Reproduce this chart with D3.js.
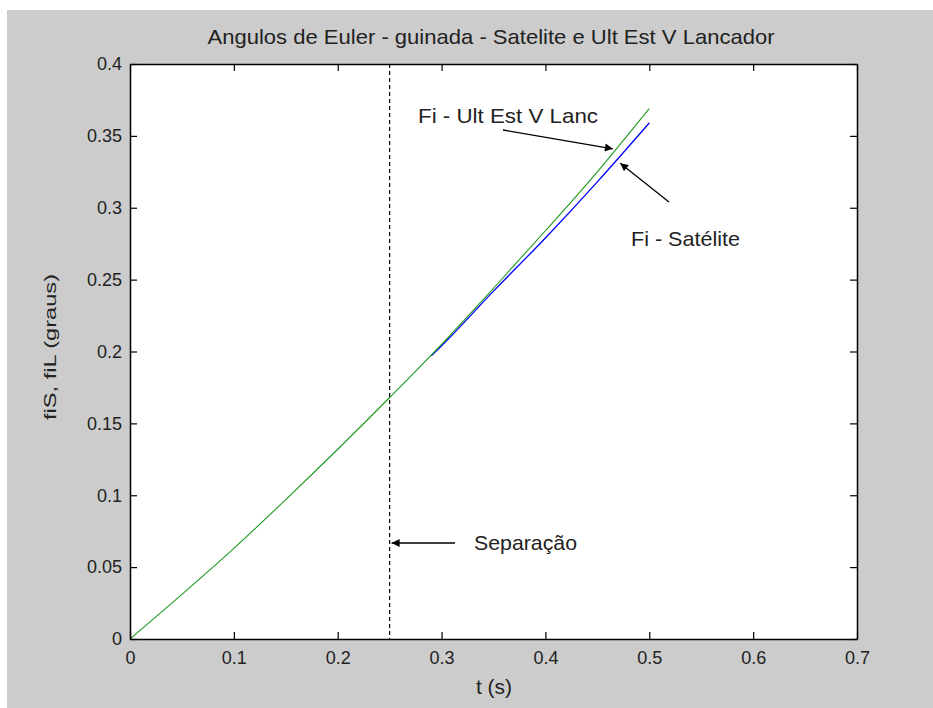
<!DOCTYPE html>
<html><head><meta charset="utf-8">
<script src="https://cdn.jsdelivr.net/npm/d3@7"></script>
<style>body{margin:0;background:#fff}svg{display:block}</style>
</head><body>
<script>
const tGreen = [0, 0.05, 0.1, 0.15, 0.2, 0.25, 0.3, 0.35, 0.4, 0.45, 0.5];
const fiL    = [0, 0.031, 0.063, 0.097, 0.132, 0.168, 0.205, 0.244, 0.284, 0.325, 0.369];
const tBlue  = [0.29, 0.3, 0.35, 0.4, 0.45, 0.5];
const fiS    = [0.197, 0.204, 0.242, 0.279, 0.318, 0.359];
const xTicks = [0, 0.1, 0.2, 0.3, 0.4, 0.5, 0.6, 0.7];
const yTicks = [0, 0.05, 0.1, 0.15, 0.2, 0.25, 0.3, 0.35, 0.4];
const separation = 0.25;
const titleText = "Angulos de Euler - guinada - Satelite e Ult Est V Lancador";

const W = 933, H = 708;
const L = 130, R = 857, T = 64, B = 639;
const font = "'Liberation Sans', Arial, sans-serif";

const svg = d3.select("body").append("svg").attr("width", W).attr("height", H)
  .style("font-family", font);
svg.append("rect").attr("x", 7).attr("y", 10).attr("width", W - 7).attr("height", H - 10).attr("fill", "#cccccc");

const x = d3.scaleLinear().domain([0, 0.7]).range([L, R]);
const y = d3.scaleLinear().domain([0, 0.4]).range([B, T]);

svg.append("rect").attr("x", L).attr("y", T).attr("width", R - L).attr("height", B - T).attr("fill", "#fff");

const defs = svg.append("defs");
defs.append("marker").attr("id", "ah").attr("viewBox", "0 0 10 10").attr("refX", 10).attr("refY", 5)
  .attr("markerWidth", 13).attr("markerHeight", 8).attr("markerUnits", "userSpaceOnUse").attr("orient", "auto")
  .append("path").attr("d", "M0,0L10,5L0,10Z").attr("fill", "#000");

// dashed separation line
svg.append("line").attr("x1", x(separation)).attr("x2", x(separation)).attr("y1", T).attr("y2", B)
  .attr("stroke", "#000").attr("stroke-width", 1.2).attr("stroke-dasharray", "4,3");

const line = d3.line().x(d => x(d[0])).y(d => y(d[1])).curve(d3.curveMonotoneX);
svg.append("path").datum(tBlue.map((t, i) => [t, fiS[i]])).attr("d", line)
  .attr("fill", "none").attr("stroke", "#0000ff").attr("stroke-width", 1.3);
svg.append("path").datum(tGreen.map((t, i) => [t, fiL[i]])).attr("d", line)
  .attr("fill", "none").attr("stroke", "#1e9a1e").attr("stroke-width", 1.1);

// axes
const gx = svg.append("g").attr("transform", `translate(0,${B})`)
  .call(d3.axisBottom(x).tickValues(xTicks).tickSizeInner(-7).tickSizeOuter(0).tickPadding(12).tickFormat(d3.format("")));
const gy = svg.append("g").attr("transform", `translate(${L},0)`)
  .call(d3.axisLeft(y).tickValues(yTicks).tickSizeInner(-7).tickSizeOuter(0).tickPadding(8).tickFormat(d3.format("")));
const gxt = svg.append("g").attr("transform", `translate(0,${T})`)
  .call(d3.axisTop(x).tickValues(xTicks).tickSizeInner(-7).tickSizeOuter(0).tickFormat(""));
const gyr = svg.append("g").attr("transform", `translate(${R},0)`)
  .call(d3.axisRight(y).tickValues(yTicks).tickSizeInner(-7).tickSizeOuter(0).tickFormat(""));
[gx, gy, gxt, gyr].forEach(g => {
  g.select(".domain").attr("stroke", "#000").attr("stroke-width", 1.5);
  g.selectAll(".tick line").attr("stroke", "#000").attr("stroke-width", 1.2);
  g.selectAll("text").attr("font-family", font).attr("font-size", 18).attr("fill", "#222");
});

svg.append("text").attr("x", 491).attr("y", 44).attr("text-anchor", "middle")
  .attr("font-size", 21).attr("textLength", 567).attr("lengthAdjust", "spacingAndGlyphs")
  .attr("fill", "#222").text(titleText);
svg.append("text").attr("x", 494).attr("y", 694).attr("text-anchor", "middle")
  .attr("font-size", 21).attr("fill", "#222").text("t (s)");
svg.append("text").attr("transform", `translate(56,347) rotate(-90)`).attr("text-anchor", "middle")
  .attr("font-size", 17).attr("textLength", 146).attr("lengthAdjust", "spacingAndGlyphs")
  .attr("fill", "#222").text("fiS, fiL (graus)");

// annotations
function arrow(x1, y1, x2, y2) {
  svg.append("line").attr("x1", x1).attr("y1", y1).attr("x2", x2).attr("y2", y2)
    .attr("stroke", "#000").attr("stroke-width", 1.3).attr("marker-end", "url(#ah)");
}
function label(tx, ty, s, len) {
  svg.append("text").attr("x", tx).attr("y", ty).attr("font-size", 21)
    .attr("textLength", len).attr("lengthAdjust", "spacingAndGlyphs").attr("fill", "#222").text(s);
}
label(418, 123, "Fi - Ult Est V Lanc", 180);
arrow(503, 130, x(0.465), y(0.341));
label(631, 246, "Fi - Satélite", 109);
arrow(669, 202, x(0.472), y(0.331));
label(474, 550, "Separação", 103);
arrow(455, 543, x(separation) + 2, 543);
</script>
</body></html>
